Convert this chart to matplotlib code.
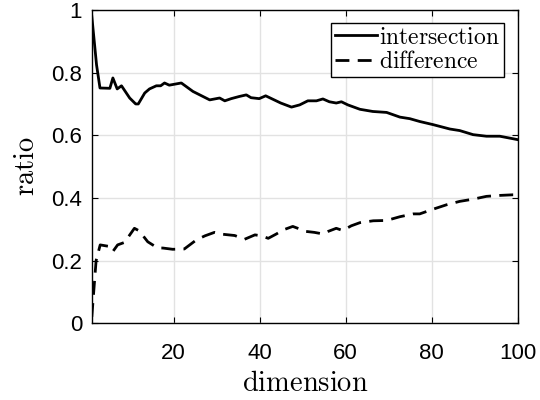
import matplotlib
matplotlib.use('Agg')
import matplotlib.pyplot as plt

plt.rcParams['font.family'] = ['Liberation Sans', 'DejaVu Sans']
plt.rcParams['mathtext.fontset'] = 'cm'

# values
x_int = [1, 2.1, 2.9, 5.2, 5.9, 6.9, 7.9, 9.8, 11.2, 11.8, 13.3, 14.4, 16, 17, 17.9, 19, 21.8,
         24.5, 28.4, 30.7, 31.9, 33.4, 35.3, 36.9, 38, 39.9, 41.4, 44.9, 47.4, 49.3, 51.2,
         53.2, 54.7, 56.2, 57.8, 59, 60.5, 63.3, 66.3, 69.5, 72.6, 74.9, 77.2, 80.3, 84.2,
         86.5, 89.6, 92.7, 95.8, 98.1, 100]
y_int = [0.98, 0.825, 0.751, 0.75, 0.783, 0.748, 0.758, 0.719, 0.70, 0.70, 0.735, 0.748, 0.758,
         0.758, 0.767, 0.76, 0.767, 0.74, 0.713, 0.719, 0.71, 0.717, 0.724, 0.729, 0.72, 0.717,
         0.726, 0.703, 0.69, 0.697, 0.71, 0.71, 0.716, 0.707, 0.703, 0.707, 0.697, 0.683, 0.676,
         0.673, 0.658, 0.653, 0.644, 0.634, 0.62, 0.615, 0.602, 0.597, 0.597, 0.591, 0.586]

x_dif = [1, 2.0, 2.95, 5.1, 5.9, 7, 8.6, 10.9, 12, 14, 16.3, 17.5, 19.8, 22.5, 25.3, 27.3, 29.5,
         31.4, 34.2, 36.5, 38.9, 40.4, 42, 43.9, 45.5, 47.7, 50.8, 52.7, 54.7, 55.9, 57.8, 59.3,
         61.3, 63.3, 66.4, 69.5, 72.6, 75.7, 77.2, 80.3, 83.4, 86.5, 89.6, 92.7, 95.8, 98.9, 100]
y_dif = [0.02, 0.2, 0.25, 0.245, 0.229, 0.25, 0.258, 0.303, 0.295, 0.26, 0.24, 0.24, 0.236, 0.237,
         0.266, 0.279, 0.29, 0.284, 0.28, 0.268, 0.282, 0.279, 0.271, 0.285, 0.298, 0.309, 0.293,
         0.29, 0.285, 0.293, 0.303, 0.296, 0.311, 0.321, 0.327, 0.328, 0.34, 0.349, 0.349, 0.364,
         0.378, 0.389, 0.396, 0.405, 0.408, 0.41, 0.41]

x_ticks = [20, 40, 60, 80, 100]
y_ticks = [0, 0.2, 0.4, 0.6, 0.8, 1]
y_ticklabels = ['0', '0.2', '0.4', '0.6', '0.8', '1']

fig = plt.figure(figsize=(5.4, 4.0), dpi=100)
ax = fig.add_axes([0.170, 0.192, 0.789, 0.783])

ax.plot(x_int, y_int, color='k', linewidth=2, label=r'$\mathrm{intersection}$')
ax.plot(x_dif, y_dif, color='k', linewidth=2, linestyle=(0, (5, 3)), label=r'$\mathrm{difference}$')

ax.set_xlim(1, 100)
ax.set_ylim(0, 1)
ax.set_xticks(x_ticks)
ax.set_xticklabels([str(t) for t in x_ticks])
ax.set_yticks(y_ticks)
ax.set_yticklabels(y_ticklabels)
ax.tick_params(direction='in', top=True, right=True, length=4, width=0.8, labelsize=16)
ax.tick_params(axis='x', pad=14)
ax.tick_params(axis='y', pad=7)
ax.grid(True, color='#e2e2e2', linewidth=1)
for s in ax.spines.values():
    s.set_linewidth(1)

ax.set_xlabel(r'$\mathrm{dimension}$', fontsize=20.5, labelpad=5)
ax.set_ylabel(r'$\mathrm{ratio}$', fontsize=20.5, labelpad=8)

leg = ax.legend(loc='upper right', bbox_to_anchor=(0.967, 0.958), borderaxespad=0,
                fontsize=17, fancybox=False, edgecolor='k', framealpha=1,
                handlelength=1.8, handletextpad=0.1, borderpad=0.15, labelspacing=0.1)
leg.get_frame().set_linewidth(1)

fig.savefig('out.png', dpi=100)
